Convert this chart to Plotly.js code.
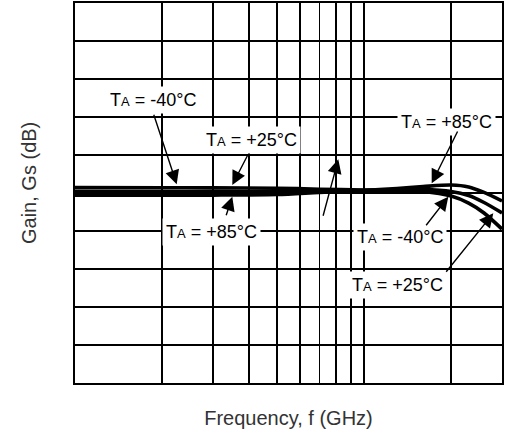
<!DOCTYPE html>
<html>
<head>
<meta charset="utf-8">
<script src="https://cdn.plot.ly/plotly-3.0.1.min.js"></script>
<style>html,body{margin:0;padding:0;background:#fff;}#chart{width:505px;height:433px;}</style>
</head>
<body>
<div id="chart"></div>
<script>
// Frequency (GHz)
const freq = [0.1, 0.2, 0.3, 0.5, 0.7, 1.0, 1.3, 1.6, 2.0, 2.3, 2.6, 3.0];
// Gain Gs (dB) per ambient temperature
const gainM40 = [10.29, 10.28, 10.27, 10.25, 10.20, 10.16, 10.17, 10.18, 10.08, 9.87, 9.50, 8.95];
const gainP25 = [10.09, 10.08, 10.08, 10.08, 10.11, 10.13, 10.13, 10.08, 9.84, 9.47, 8.95, 8.10];
const gainP85 = [9.89, 9.89, 9.89, 9.92, 10.03, 10.13, 10.24, 10.34, 10.42, 10.32, 10.03, 9.58];
const seriesNames = ["TA = -40°C", "TA = +25°C", "TA = +85°C"];
const gridFreqs = [0.2, 0.3, 0.4, 0.5, 0.6, 0.7, 0.8, 0.9, 1, 2];
const xTitle = 'Frequency, f (GHz)';
const yTitle = 'Gain, Gs (dB)';

const lbl = (s) => 'T<span style="font-size:13px">A</span>' + s.slice(2);

const mk = (y, name) => ({
  x: freq, y: y, name: name, type: 'scatter', mode: 'lines',
  line: {color: '#000', width: 3.6, shape: 'spline', smoothing: 0.8},
  hoverinfo: 'skip'
});
const data = [mk(gainM40, seriesNames[0]), mk(gainP25, seriesNames[1]), mk(gainP85, seriesNames[2])];

const FAM = '"Liberation Sans", Arial, sans-serif';
const font = {family: FAM, size: 18, color: '#000'};
function label(text, x, y) {
  return {xref: 'paper', yref: 'paper', x: x, y: y, text: lbl(text), showarrow: false,
    font: font, bgcolor: '#fff', borderpad: 3, xanchor: 'center', yanchor: 'middle'};
}
function arrow(x, y, ax, ay) {
  return {xref: 'paper', yref: 'paper', x: x, y: y, ax: ax, ay: ay, text: '', showarrow: true,
    arrowhead: 2, arrowsize: 2, arrowwidth: 1.4, arrowcolor: '#000', standoff: 0};
}
const P = (px) => (px - 75) / 427;
const Q = (py) => (383 - py) / 380;

const annotations = [
  label(seriesNames[0], P(153), Q(100)),
  label(seriesNames[1], P(251.7), Q(140)),
  label(seriesNames[2], P(211), Q(231.5)),
  label(seriesNames[2], P(446), Q(121.7)),
  label(seriesNames[0], P(400), Q(236.7)),
  label(seriesNames[1], P(397.7), Q(285)),
  arrow(P(176.7), Q(184.3), -23.4, -71),
  arrow(P(232.3), Q(185), 16, -31),
  arrow(P(232.3), Q(196.7), -6.6, 20),
  arrow(P(338.3), Q(159.3), -15.6, 58),
  arrow(P(431.7), Q(183.3), 26.6, -53.3),
  arrow(P(448.3), Q(196.7), -23.3, 30),
  arrow(P(493.3), Q(213.3), -48.3, 60),
  {xref: 'paper', yref: 'paper', x: P(29), y: Q(183), text: yTitle, textangle: -90,
   showarrow: false, font: {family: FAM, size: 20, color: '#333'}, xanchor: 'center', yanchor: 'middle'}
];

const layout = {
  width: 505, height: 433,
  margin: {l: 75, r: 3, t: 3, b: 50},
  paper_bgcolor: '#fff', plot_bgcolor: '#fff',
  showlegend: false,
  font: {family: FAM, color: '#000'},
  xaxis: {
    type: 'log', range: [Math.log10(0.1), Math.log10(3)],
    tickvals: gridFreqs, showticklabels: false, ticks: '',
    showgrid: true, gridcolor: '#000', gridwidth: 1.3,
    showline: true, linecolor: '#000', linewidth: 1.6, mirror: true, zeroline: false,
    automargin: false,
    title: {text: xTitle, font: {size: 20, color: '#333'}, standoff: 27}
  },
  yaxis: {
    range: [0, 20], dtick: 2, showticklabels: false, ticks: '',
    showgrid: true, gridcolor: '#000', gridwidth: 1.3,
    showline: true, linecolor: '#000', linewidth: 1.6, mirror: true, zeroline: false
  },
  shapes: [
    {type: 'rect', layer: 'between', xref: 'paper', yref: 'y',
     x0: 0.872, x1: 0.89, y0: 18.1, y1: 19.9, fillcolor: '#fff', line: {width: 0}}
  ],
  annotations: annotations
};

Plotly.newPlot('chart', data, layout, {displayModeBar: false, staticPlot: true});
</script>
</body>
</html>
